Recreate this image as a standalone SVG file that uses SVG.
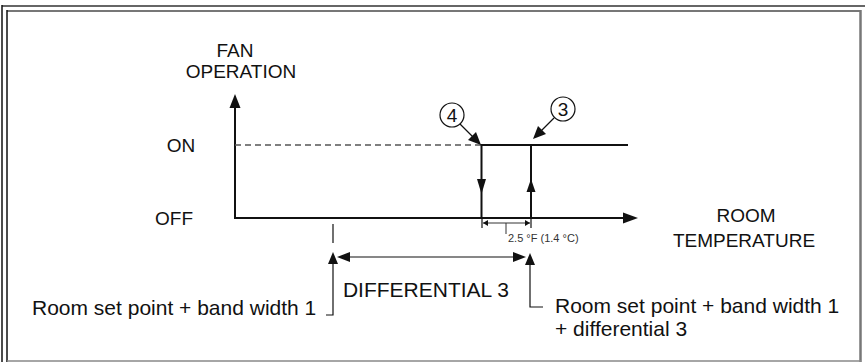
<svg xmlns="http://www.w3.org/2000/svg" width="865" height="362" viewBox="0 0 865 362">
<style>
text{font-family:"Liberation Sans",Arial,sans-serif;fill:#111}
.lbl{font-size:19px}
.big{font-size:21px}
.sm{font-size:11px;fill:#333}
.ln{stroke:#111;stroke-width:2;fill:none}
.thin{stroke:#111;stroke-width:1.2;fill:none}
.ah{fill:#111}
</style>
<rect width="865" height="362" fill="#fff"/>
<g id="frame" fill="none">
<line x1="2" y1="6" x2="865" y2="6" stroke="#666" stroke-width="2"/>
<line x1="2" y1="5" x2="2" y2="362" stroke="#111" stroke-width="1.5"/>
<line x1="7" y1="11" x2="861" y2="11" stroke="#777" stroke-width="2"/>
<line x1="7" y1="10" x2="7" y2="362" stroke="#111" stroke-width="1.5"/>
<line x1="860.5" y1="10" x2="860.5" y2="362" stroke="#777" stroke-width="2.5"/>
<line x1="7" y1="361" x2="861" y2="361" stroke="#888" stroke-width="1.5"/>
</g>
<g id="axes">
<polyline class="ln" points="235,105 235,218 626,218"/>
<polygon class="ah" points="235,94 229.5,108 240.5,108"/>
<polygon class="ah" points="638,218 623,212.5 623,223.5"/>
<text class="lbl" x="235" y="57" text-anchor="middle">FAN</text>
<text class="lbl" x="241" y="78" text-anchor="middle">OPERATION</text>
<text class="lbl" x="181" y="152" text-anchor="middle">ON</text>
<text class="lbl" x="174" y="225" text-anchor="middle">OFF</text>
<text class="lbl" x="746" y="222" text-anchor="middle">ROOM</text>
<text class="lbl" x="744" y="247" text-anchor="middle">TEMPERATURE</text>
</g>
<g id="connectors">
<line x1="235" y1="145" x2="481" y2="145" stroke="#555" stroke-width="1.3" stroke-dasharray="6,4"/>
<polyline class="ln" points="481.5,218 481.5,145 531,145 628,145"/>
<line class="ln" x1="531" y1="145" x2="531" y2="218"/>
<polygon class="ah" points="481.5,194 477,179 486,179"/>
<polygon class="ah" points="531,179 526.5,192 535.5,192"/>
<line class="thin" x1="460" y1="124" x2="474" y2="138"/>
<polygon class="ah" points="481,145 468,140 476,132"/>
<line class="thin" x1="554" y1="118" x2="540" y2="132"/>
<polygon class="ah" points="533,139 538,126 546,134"/>
<!-- small dimension -->
<line class="thin" x1="482" y1="218" x2="482" y2="228"/>
<line class="thin" x1="531" y1="218" x2="531" y2="228"/>
<line x1="483" y1="223" x2="530" y2="223" stroke="#333" stroke-width="1"/>
<polygon class="ah" points="483,223 488,220 488,226"/>
<polygon class="ah" points="530,223 525,220 525,226"/>
<line x1="506" y1="223" x2="506" y2="234" stroke="#333" stroke-width="1"/>
<text class="sm" x="508" y="242">2.5 °F (1.4 °C)</text>
<!-- lower dimension -->
<line class="thin" x1="333" y1="224" x2="333" y2="243"/>
<polyline class="thin" points="333,262 333,315 326,315"/>
<polygon class="ah" points="333,252 328,264 338,264"/>
<polyline class="thin" points="530,264 530,307 543,307"/>
<polygon class="ah" points="530,253 525,265 535,265"/>
<line class="thin" x1="348" y1="257" x2="514" y2="257"/>
<polygon class="ah" points="337,257 350,252 350,262"/>
<polygon class="ah" points="526,257 513,252 513,262"/>
</g>
<g id="node4">
<circle cx="452" cy="115" r="12" fill="#fff" stroke="#111" stroke-width="1.2"/>
<text class="lbl" x="452" y="122" text-anchor="middle">4</text>
</g>
<g id="node3">
<circle cx="563" cy="109" r="12" fill="#fff" stroke="#111" stroke-width="1.2"/>
<text class="lbl" x="563" y="116" text-anchor="middle">3</text>
</g>
<g id="labels">
<text class="big" x="426" y="297" text-anchor="middle">DIFFERENTIAL 3</text>
<text class="big" x="32" y="315">Room set point + band width 1</text>
<text class="big" x="555" y="313">Room set point + band width 1</text>
<text class="big" x="555" y="336">+ differential 3</text>
</g>
</svg>
